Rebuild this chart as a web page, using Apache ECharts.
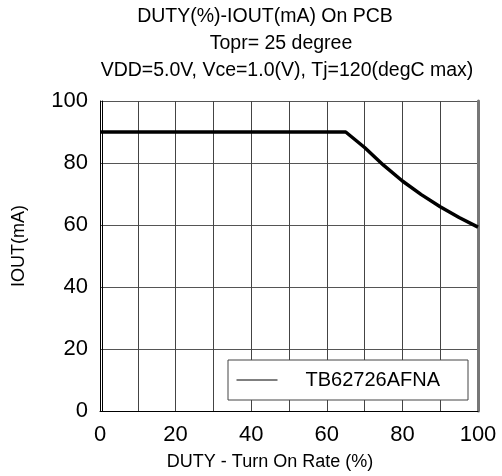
<!DOCTYPE html>
<html>
<head>
<meta charset="utf-8">
<script src="https://cdn.jsdelivr.net/npm/echarts@6/dist/echarts.min.js"></script>
<style>
  html, body { margin: 0; padding: 0; background: #fff; }
  #main { width: 502px; height: 476px; }
</style>
</head>
<body>
<div id="main"></div>
<script>
// DUTY(%) - IOUT(mA) curve
var duty = [0, 10, 20, 30, 40, 50, 60, 65, 70, 75, 80, 85, 90, 95, 100];
var iout = [90, 90, 90, 90, 90, 90, 90, 90, 85, 79.3, 74.2, 69.8, 65.9, 62.4, 59.3];
var xTicks = [0, 20, 40, 60, 80, 100];
var yTicks = [0, 20, 40, 60, 80, 100];
var titleLines = ['DUTY(%)-IOUT(mA) On PCB', 'Topr= 25 degree', 'VDD=5.0V, Vce=1.0(V), Tj=120(degC max)'];
var seriesName = 'TB62726AFNA';

var font = "'Liberation Sans', Arial, sans-serif";

var chart = echarts.init(document.getElementById('main'));

var points = duty.map(function (d, i) { return [d, iout[i]]; });

var option = {
  animation: false,
  backgroundColor: '#fff',
  textStyle: { fontFamily: font, color: '#000' },
  title: [
    { text: titleLines[0], left: 265, top: 7, textAlign: 'center', padding: 0,
      textStyle: { fontSize: 19.5, fontWeight: 'normal', color: '#000', fontFamily: font } },
    { text: titleLines[1], left: 281, top: 34, textAlign: 'center', padding: 0,
      textStyle: { fontSize: 19.5, fontWeight: 'normal', color: '#000', fontFamily: font } },
    { text: titleLines[2], left: 287, top: 61, textAlign: 'center', padding: 0,
      textStyle: { fontSize: 19.5, fontWeight: 'normal', color: '#000', fontFamily: font } }
  ],
  grid: { left: 100, right: 24, top: 101, bottom: 65, containLabel: false },
  legend: {
    data: [seriesName],
    left: 228, top: 360,
    padding: [10, 28, 10, 8],
    backgroundColor: '#fff',
    borderColor: '#444',
    borderWidth: 1,
    itemWidth: 41,
    itemHeight: 14,
    itemStyle: { opacity: 0 },
    lineStyle: { width: 1, color: '#000' },
    textStyle: { fontSize: 20, color: '#000', fontFamily: font, padding: [0, 0, 0, 23] }
  },
  xAxis: {
    type: 'value',
    min: 0, max: 100, interval: 20,
    name: 'DUTY - Turn On Rate (%)',
    nameLocation: 'middle',
    nameGap: 42,
    nameTextStyle: { fontSize: 18, color: '#000', padding: [0, 38, 0, 0] },
    axisLine: { show: true, onZero: false, lineStyle: { color: '#000', width: 1 } },
    axisTick: { show: false },
    axisLabel: {
      fontSize: 22, color: '#000', margin: 13,
      customValues: xTicks
    },
    splitLine: { show: true, lineStyle: { color: '#444', width: 1 } },
    minorTick: { show: false, splitNumber: 2 },
    minorSplitLine: { show: true, lineStyle: { color: '#444', width: 1 } }
  },
  yAxis: [
    {
      type: 'value',
      min: 0, max: 100, interval: 20,
      name: 'IOUT(mA)',
      nameLocation: 'middle',
      nameGap: 72,
      nameTextStyle: { fontSize: 18, color: '#000', padding: [0, 0, 0, 20] },
      axisLine: { show: true, onZero: false, lineStyle: { color: '#000', width: 1 } },
      axisTick: { show: false },
      axisLabel: {
        fontSize: 22, color: '#000', margin: 12, padding: [6, 0, 0, 0],
        customValues: yTicks
      },
      splitLine: { show: true, lineStyle: { color: '#555', width: 1 } }
    },
    {
      // inner line of the doubled left border
      type: 'value', position: 'left', offset: -2, min: 0, max: 100,
      axisLine: { show: true, onZero: false, lineStyle: { color: '#000', width: 1 } },
      axisTick: { show: false }, axisLabel: { show: false }, splitLine: { show: false }
    },
    {
      // heavy right border
      type: 'value', position: 'right', offset: 0, min: 0, max: 100,
      axisLine: { show: true, onZero: false, lineStyle: { color: '#777', width: 3 } },
      axisTick: { show: false }, axisLabel: { show: false }, splitLine: { show: false }
    }
  ],
  series: [{
    name: seriesName,
    type: 'line',
    data: points,
    symbol: 'none',
    lineStyle: { color: '#000', width: 3.5, join: 'round' },
    itemStyle: { color: '#000' },
    z: 5
  }]
};

chart.setOption(option);
</script>
</body>
</html>
